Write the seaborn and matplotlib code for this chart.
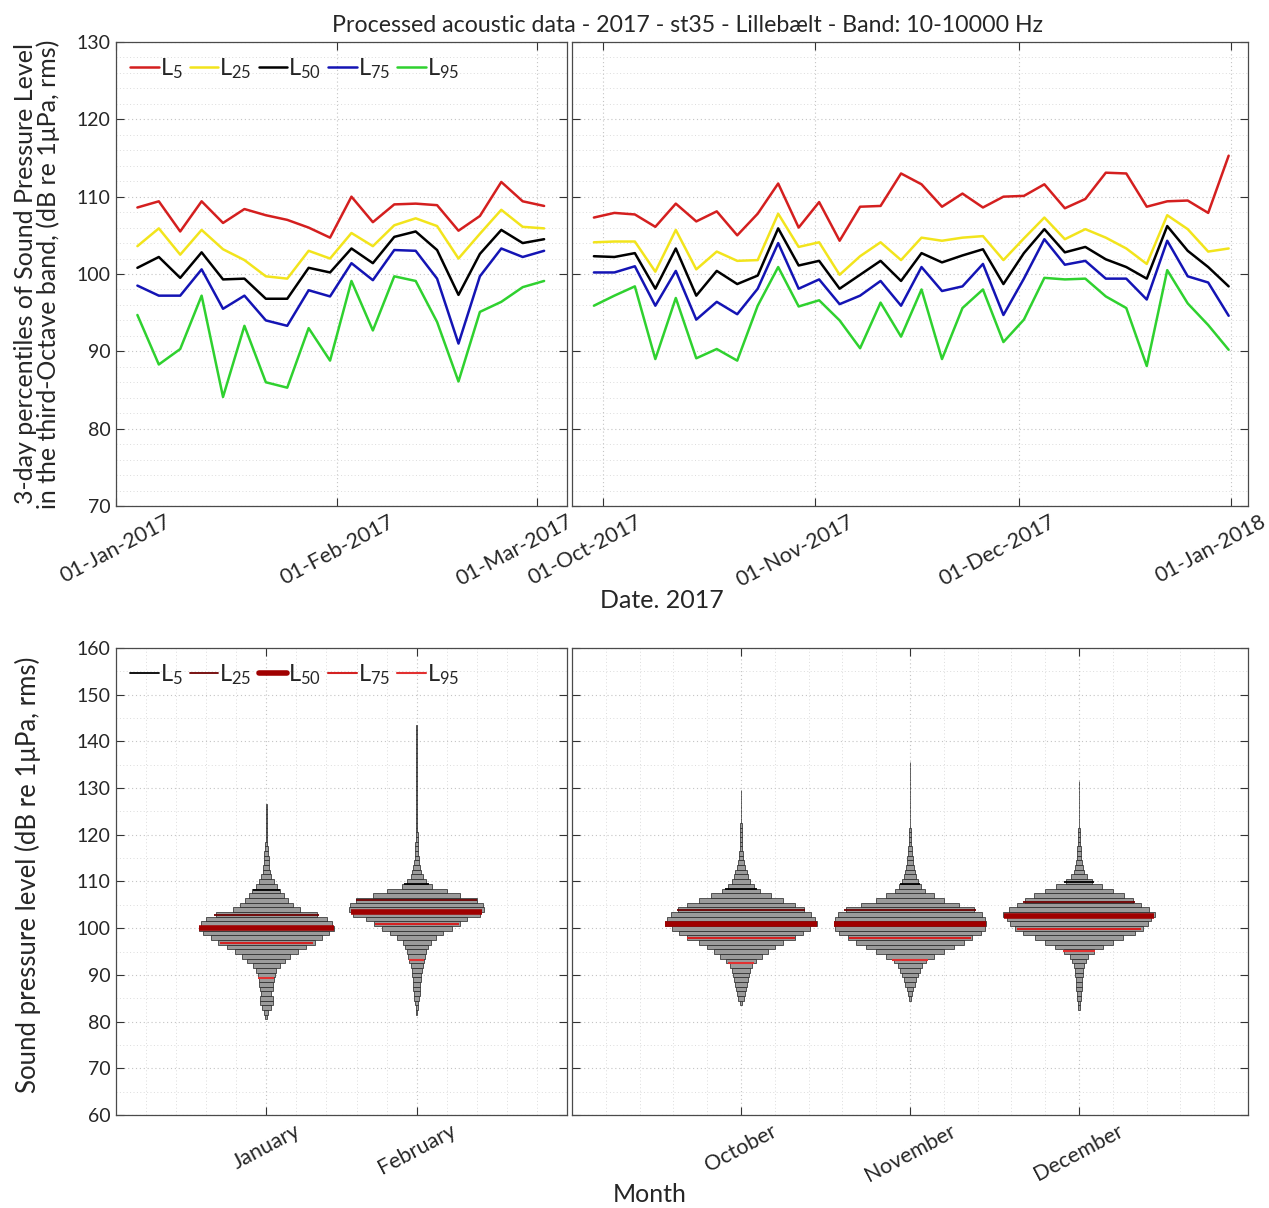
import numpy as np
import pandas as pd
import matplotlib
matplotlib.use("Agg")
import matplotlib.pyplot as plt
import matplotlib.dates as mdates
import matplotlib.transforms as mtransforms
from matplotlib.lines import Line2D
from matplotlib.ticker import MultipleLocator
import seaborn as sns

# ---------------- data ----------------
percentiles = ["L5", "L25", "L50", "L75", "L95"]

winter_dates = pd.date_range("2017-01-04", periods=20, freq="3D")
winter_L5 = [108.6, 109.4, 105.5, 109.4, 106.6, 108.4, 107.6, 107.0, 106.0, 104.7,
             110.0, 106.7, 109.0, 109.1, 108.9, 105.6, 107.5, 111.9, 109.4, 108.8]
winter_L25 = [103.6, 105.9, 102.5, 105.7, 103.2, 101.8, 99.7, 99.4, 103.0, 102.0,
              105.3, 103.6, 106.3, 107.2, 106.2, 102.0, 105.2, 108.3, 106.1, 105.9]
winter_L50 = [100.8, 102.2, 99.5, 102.8, 99.3, 99.4, 96.8, 96.8, 100.8, 100.2,
              103.3, 101.4, 104.8, 105.5, 103.1, 97.3, 102.6, 105.7, 104.0, 104.5]
winter_L75 = [98.5, 97.2, 97.2, 100.6, 95.5, 97.2, 94.0, 93.3, 97.9, 97.1,
              101.4, 99.2, 103.1, 103.0, 99.4, 91.0, 99.7, 103.3, 102.2, 103.0]
winter_L95 = [94.7, 88.3, 90.3, 97.2, 84.1, 93.3, 86.0, 85.3, 93.0, 88.8,
              99.1, 92.7, 99.7, 99.1, 93.8, 86.1, 95.1, 96.4, 98.3, 99.1]

autumn_dates = pd.date_range("2017-09-29 16:00", periods=32, freq="3D")
autumn_L5 = [107.3, 107.9, 107.7, 106.1, 109.1, 106.8, 108.1, 105.0, 107.8, 111.7,
             106.0, 109.3, 104.3, 108.7, 108.8, 113.0, 111.6, 108.7, 110.4, 108.6,
             110.0, 110.1, 111.6, 108.5, 109.7, 113.1, 113.0, 108.7, 109.4, 109.5,
             107.9, 115.3]
autumn_L25 = [104.1, 104.2, 104.2, 100.3, 105.7, 100.6, 102.9, 101.7, 101.8, 107.8,
              103.5, 104.1, 99.9, 102.3, 104.1, 101.8, 104.7, 104.3, 104.7, 104.9,
              101.8, 104.6, 107.3, 104.5, 105.8, 104.7, 103.3, 101.3, 107.6, 105.8,
              102.9, 103.3]
autumn_L50 = [102.3, 102.2, 102.7, 98.1, 103.3, 97.2, 100.4, 98.7, 99.8, 105.9,
              101.1, 101.7, 98.1, 99.9, 101.7, 99.1, 102.7, 101.5, 102.4, 103.2,
              98.7, 102.7, 105.8, 102.8, 103.5, 101.9, 100.9, 99.4, 106.2, 103.0,
              100.9, 98.4]
autumn_L75 = [100.2, 100.2, 101.0, 95.9, 100.4, 94.1, 96.4, 94.8, 98.1, 104.0,
              98.1, 99.3, 96.1, 97.2, 99.1, 95.9, 100.9, 97.8, 98.4, 101.3,
              94.7, 99.4, 104.5, 101.2, 101.7, 99.4, 99.4, 96.7, 104.3, 99.7,
              98.9, 94.6]
autumn_L95 = [95.9, 97.2, 98.4, 89.0, 96.9, 89.1, 90.3, 88.8, 95.9, 100.9,
              95.8, 96.6, 94.0, 90.4, 96.3, 91.9, 98.0, 89.0, 95.6, 98.0,
              91.2, 94.1, 99.5, 99.3, 99.4, 97.1, 95.6, 88.1, 100.5, 96.2,
              93.4, 90.2]

# monthly distributions: histogram counts per 1-dB level (relative), lowest level first
winter_months = ["January", "February"]
autumn_months = ["October", "November", "December"]

jan_lowest = 81
jan_counts = [3, 6, 14, 20, 19, 15, 19, 21, 23, 25, 30, 40, 57, 72, 95, 118, 145, 165, 188, 202,
              195, 180, 150, 100, 80, 65, 53, 42, 32, 22, 15, 11, 9, 8, 7, 6, 4, 3, 2, 2,
              2, 2, 2, 2, 1.5, 1]
feb_lowest = 82
feb_counts = [2, 3, 5, 7, 9, 10, 11, 12, 14, 15, 18, 22, 25, 29, 34, 42, 58, 80, 105, 128,
              150, 190, 202, 198, 180, 130, 90, 45, 28, 18, 13, 10, 8, 6, 5, 4, 4, 3, 3, 2,
              2, 1.5, 1, 1, 1, 1, 1, 1, 1, 1, 1, 1, 1, 1, 1, 1, 1, 1, 1, 1, 1, 0.5]
oct_lowest = 84
oct_counts = [3, 8, 12, 16, 19, 22, 24, 26, 32, 45, 62, 80, 102, 125, 160, 185, 205, 226, 220, 208,
              188, 160, 125, 90, 55, 38, 28, 22, 18, 13, 9, 7, 5, 4, 3, 2, 2, 1.5, 1.5, 1,
              1, 1, 1, 1, 1, 1]
nov_lowest = 85
nov_counts = [3, 6, 10, 14, 19, 24, 30, 37, 48, 70, 100, 130, 160, 185, 210, 222, 226, 224, 215, 190,
              145, 100, 70, 45, 32, 23, 18, 15, 12, 10, 8, 6, 5, 4, 3, 2, 1.5, 1, 1, 1,
              1, 1, 1, 1, 1, 1, 1, 1, 1, 1, 0.5]
dec_lowest = 83
dec_counts = [2, 3, 5, 7, 8, 9, 10, 11, 13, 16, 20, 28, 45, 70, 100, 130, 165, 190, 205, 215,
              226, 208, 185, 160, 135, 100, 68, 40, 25, 16, 12, 10, 7, 6, 5, 4, 3, 2, 1.5, 1,
              1, 1, 1, 1, 1, 1, 1, 1, 0.5]

# monthly percentile levels L5, L25, L50, L75, L95 (dB)
jan_pct = [108.2, 102.8, 100.1, 96.8, 89.3]
feb_pct = [109.5, 106.0, 103.5, 100.9, 93.2]
oct_pct = [108.5, 103.9, 101.0, 98.0, 92.5]
nov_pct = [109.4, 103.8, 100.9, 97.8, 93.2]
dec_pct = [109.8, 105.7, 102.7, 99.8, 95.1]

# ---------------- style ----------------
sns.set_theme(style="white")
plt.rcParams["font.family"] = ["Lato", "DejaVu Sans"]
plt.rcParams["mathtext.default"] = "regular"

line_colors = {"L5": "#d41f1f", "L25": "#f2e41c", "L50": "#000000",
               "L75": "#1414b4", "L95": "#2fd12f"}
pct_styles = [("#000000", 1.3), ("#6e0000", 1.3), ("#a00000", 4.0),
              ("#d42222", 1.5), ("#e23030", 1.5)]
label_of = {p: "$L_{%s}$" % p[1:] for p in percentiles}

W, H = 1269, 1208
fig = plt.figure(figsize=(W / 100, H / 100), dpi=100)
fig.patch.set_facecolor("white")


def px_axes(x0, y0, x1, y1):
    return fig.add_axes([x0 / W, 1 - y1 / H, (x1 - x0) / W, (y1 - y0) / H])


ax_tl = px_axes(116, 42, 567, 506)
ax_tr = px_axes(572, 42, 1248, 506)
ax_bl = px_axes(116, 648, 567, 1115)
ax_br = px_axes(572, 648, 1248, 1115)

tick_fs = 14


def style_axes(ax, show_ylabels):
    for s in ax.spines.values():
        s.set_color("#4a4a4a")
        s.set_linewidth(0.9)
        s.set_visible(True)
    ax.set_facecolor("white")
    ax.tick_params(which="major", direction="in", length=6, width=0.8, color="#333333",
                   top=True, right=True, bottom=True, left=True,
                   labelsize=tick_fs, labelleft=show_ylabels, pad=4)
    ax.tick_params(which="minor", length=0)
    ax.grid(which="major", ls=(0, (1, 2.5)), color="#c4c4c4", lw=0.8)
    ax.grid(which="minor", ls=(0, (1, 2.5)), color="#dcdcdc", lw=0.7)
    ax.set_axisbelow(True)
    ax.set_xlabel("")
    ax.set_ylabel("")


# ---------------- top: time series ----------------
def long_frame(dates, series):
    rows = []
    for p, vals in zip(percentiles, series):
        rows.append(pd.DataFrame({"date": dates, "spl": vals, "pct": label_of[p]}))
    return pd.concat(rows, ignore_index=True)


winter_df = long_frame(winter_dates, [winter_L5, winter_L25, winter_L50, winter_L75, winter_L95])
autumn_df = long_frame(autumn_dates, [autumn_L5, autumn_L25, autumn_L50, autumn_L75, autumn_L95])
palette = {label_of[p]: line_colors[p] for p in percentiles}
hue_order = [label_of[p] for p in percentiles]

for ax, df in [(ax_tl, winter_df), (ax_tr, autumn_df)]:
    sns.lineplot(data=df, x="date", y="spl", hue="pct", hue_order=hue_order,
                 palette=palette, estimator=None, lw=1.8, ax=ax, legend=(ax is ax_tl))
    ax.set_ylim(70, 130)
    ax.yaxis.set_major_locator(MultipleLocator(10))
    ax.yaxis.set_minor_locator(MultipleLocator(2))

ax_tl.set_xlim(pd.Timestamp("2017-01-01"), pd.Timestamp("2017-03-05 05:00"))
ax_tl.set_xticks([pd.Timestamp("2017-01-01"), pd.Timestamp("2017-02-01"), pd.Timestamp("2017-03-01")])
ax_tr.set_xlim(pd.Timestamp("2017-09-26 11:00"), pd.Timestamp("2018-01-03 12:00"))
ax_tr.set_xticks([pd.Timestamp("2017-10-01"), pd.Timestamp("2017-11-01"),
                  pd.Timestamp("2017-12-01"), pd.Timestamp("2018-01-01")])
ax_tl.xaxis.set_major_formatter(mdates.DateFormatter("%d-%b-%Y"))
ax_tr.xaxis.set_major_formatter(mdates.DateFormatter("%d-%b-%Y"))

style_axes(ax_tl, True)
style_axes(ax_tr, False)

handles, labels = ax_tl.get_legend_handles_labels()
ax_tl.legend(handles, labels, loc="upper left", ncol=5, frameon=False, fontsize=17,
             handlelength=1.2, handletextpad=0.05, columnspacing=0.3,
             borderaxespad=0.2, bbox_to_anchor=(0.0, 1.0))

# ---------------- bottom: monthly distributions ----------------
half_width = 0.45
bar_face = "#9b9b9b"


def draw_month(ax, pos, lowest, counts, pct):
    counts = np.asarray(counts, dtype=float)
    levels = lowest + np.arange(len(counts))
    w = counts / counts.max() * half_width
    ax.barh(levels, 2 * w, left=pos - w, height=1.0, color=bar_face,
            edgecolor="#222222", linewidth=0.5, zorder=2)
    for (c, lw), lev in zip(pct_styles, pct):
        hw = np.interp(lev, levels, w)
        ax.plot([pos - hw, pos + hw], [lev, lev], color=c, lw=lw,
                solid_capstyle="butt", zorder=3)


for i, (lo, cnt, pc) in enumerate([(jan_lowest, jan_counts, jan_pct),
                                   (feb_lowest, feb_counts, feb_pct)]):
    draw_month(ax_bl, i, lo, cnt, pc)
for i, (lo, cnt, pc) in enumerate([(oct_lowest, oct_counts, oct_pct),
                                   (nov_lowest, nov_counts, nov_pct),
                                   (dec_lowest, dec_counts, dec_pct)]):
    draw_month(ax_br, i, lo, cnt, pc)

for ax, months in [(ax_bl, winter_months), (ax_br, autumn_months)]:
    ax.set_ylim(60, 160)
    ax.yaxis.set_major_locator(MultipleLocator(10))
    ax.yaxis.set_minor_locator(MultipleLocator(5))
    ax.xaxis.set_minor_locator(MultipleLocator(0.2))
    ax.set_xticks(range(len(months)))
    ax.set_xticklabels(months)
ax_bl.set_xlim(-1, 2)
ax_br.set_xlim(-1, 3)
style_axes(ax_bl, True)
style_axes(ax_br, False)

leg_handles = [Line2D([], [], color=c, lw=lw) for c, lw in pct_styles]
ax_bl.legend(leg_handles, [label_of[p] for p in percentiles], loc="upper left", ncol=5,
             frameon=False, fontsize=17, handlelength=1.2, handletextpad=0.05,
             columnspacing=0.3, borderaxespad=0.2, bbox_to_anchor=(0.0, 1.0))

# rotated tick labels
for ax in [ax_tl, ax_tr, ax_bl, ax_br]:
    for lbl in ax.get_xticklabels():
        lbl.set_rotation(28)
        lbl.set_ha("center")
        lbl.set_fontsize(15.5)

# small horizontal nudges of some date labels (as in the reference layout)
nudges = {"01-Mar-2017": -0.22, "01-Oct-2017": -0.18, "01-Nov-2017": -0.2,
          "01-Dec-2017": -0.22, "01-Jan-2018": -0.2}
fig.canvas.draw()
for ax in [ax_tl, ax_tr]:
    for lbl in ax.get_xticklabels():
        sh = nudges.get(lbl.get_text(), 0.0)
        if sh:
            lbl.set_transform(lbl.get_transform() +
                              mtransforms.ScaledTranslation(sh, 0, fig.dpi_scale_trans))

# ---------------- figure texts ----------------
fig.text(687 / W, 1 - 25 / H, "Processed acoustic data - 2017 - st35 - Lillebælt - Band: 10-10000 Hz",
         ha="center", va="center", fontsize=16.7)
fig.text(662 / W, 1 - 600 / H, "Date. 2017", ha="center", va="center", fontsize=18)
fig.text(650 / W, 1 - 1195 / H, "Month", ha="center", va="center", fontsize=18)
fig.text(37 / W, 1 - 274 / H,
         "3-day percentiles of Sound Pressure Level\nin the third-Octave band, (dB re 1μPa, rms)",
         ha="center", va="center", rotation=90, fontsize=18, linespacing=1.0)
fig.text(28 / W, 1 - 875 / H, "Sound pressure level (dB re 1μPa, rms)",
         ha="center", va="center", rotation=90, fontsize=18.5)

fig.savefig("out.png", dpi=100, facecolor="white")
